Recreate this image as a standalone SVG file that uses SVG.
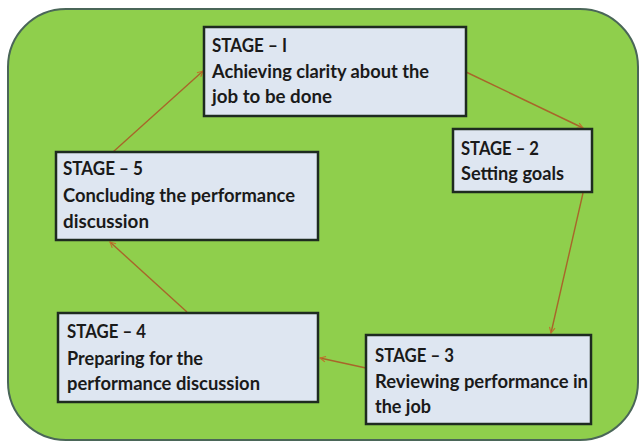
<svg xmlns="http://www.w3.org/2000/svg" width="643" height="443" viewBox="0 0 643 443">
  <style>
    .node rect { fill: #dee6f1; stroke: #1e2b20; stroke-width: 2.5; }
    .node text { font-family: Lato, "Liberation Sans", sans-serif; font-weight: bold; font-size: 19px; fill: #1a1a1a; }
    .conn line { stroke: #a8652a; stroke-width: 1.4; fill: none; marker-end: url(#arrow); }
  </style>
  <defs>
    <marker id="arrow" viewBox="0 0 10 10" refX="9" refY="5" markerWidth="7" markerHeight="7" orient="auto" markerUnits="userSpaceOnUse">
      <path d="M1,1 L9,5 L1,9" fill="none" stroke="#c0702a" stroke-width="1.6"/>
    </marker>
  </defs>
  <rect x="0" y="0" width="643" height="443" fill="#ffffff"/>
  <rect id="background" x="8" y="9" width="630" height="431" rx="58" ry="58" fill="#8fcf4c" stroke="#4a6658" stroke-width="2"/>

  <g id="connectors" class="conn">
    <line x1="466" y1="72" x2="583" y2="128"/>
    <line x1="583" y1="193" x2="551" y2="333"/>
    <line x1="366" y1="368" x2="320" y2="358"/>
    <line x1="187" y1="312" x2="110" y2="242"/>
    <line x1="113" y1="152" x2="203" y2="71"/>
  </g>

  <g id="stage1" class="node">
    <rect x="204" y="27" width="262" height="89"/>
    <text x="212" y="52" textLength="75" lengthAdjust="spacingAndGlyphs">STAGE – I</text>
    <text x="212" y="78" textLength="217" lengthAdjust="spacingAndGlyphs">Achieving clarity about the</text>
    <text x="212" y="103" textLength="120" lengthAdjust="spacingAndGlyphs">job to be done</text>
  </g>

  <g id="stage2" class="node">
    <rect x="453" y="129" width="139" height="63"/>
    <text x="461" y="155" textLength="78" lengthAdjust="spacingAndGlyphs">STAGE – 2</text>
    <text x="461" y="180" textLength="103" lengthAdjust="spacingAndGlyphs">Setting goals</text>
  </g>

  <g id="stage3" class="node">
    <rect x="366" y="335" width="225" height="89"/>
    <text x="375" y="362" textLength="79" lengthAdjust="spacingAndGlyphs">STAGE – 3</text>
    <text x="375" y="388" textLength="213" lengthAdjust="spacingAndGlyphs">Reviewing performance in</text>
    <text x="375" y="413" textLength="56" lengthAdjust="spacingAndGlyphs">the job</text>
  </g>

  <g id="stage4" class="node">
    <rect x="58" y="313" width="260" height="89"/>
    <text x="67" y="338" textLength="79" lengthAdjust="spacingAndGlyphs">STAGE – 4</text>
    <text x="67" y="365" textLength="136" lengthAdjust="spacingAndGlyphs">Preparing for the</text>
    <text x="67" y="390" textLength="193" lengthAdjust="spacingAndGlyphs">performance discussion</text>
  </g>

  <g id="stage5" class="node">
    <rect x="56" y="152" width="262" height="88"/>
    <text x="63" y="175" textLength="80" lengthAdjust="spacingAndGlyphs">STAGE – 5</text>
    <text x="63" y="202" textLength="232" lengthAdjust="spacingAndGlyphs">Concluding the performance</text>
    <text x="63" y="228" textLength="86" lengthAdjust="spacingAndGlyphs">discussion</text>
  </g>
</svg>
